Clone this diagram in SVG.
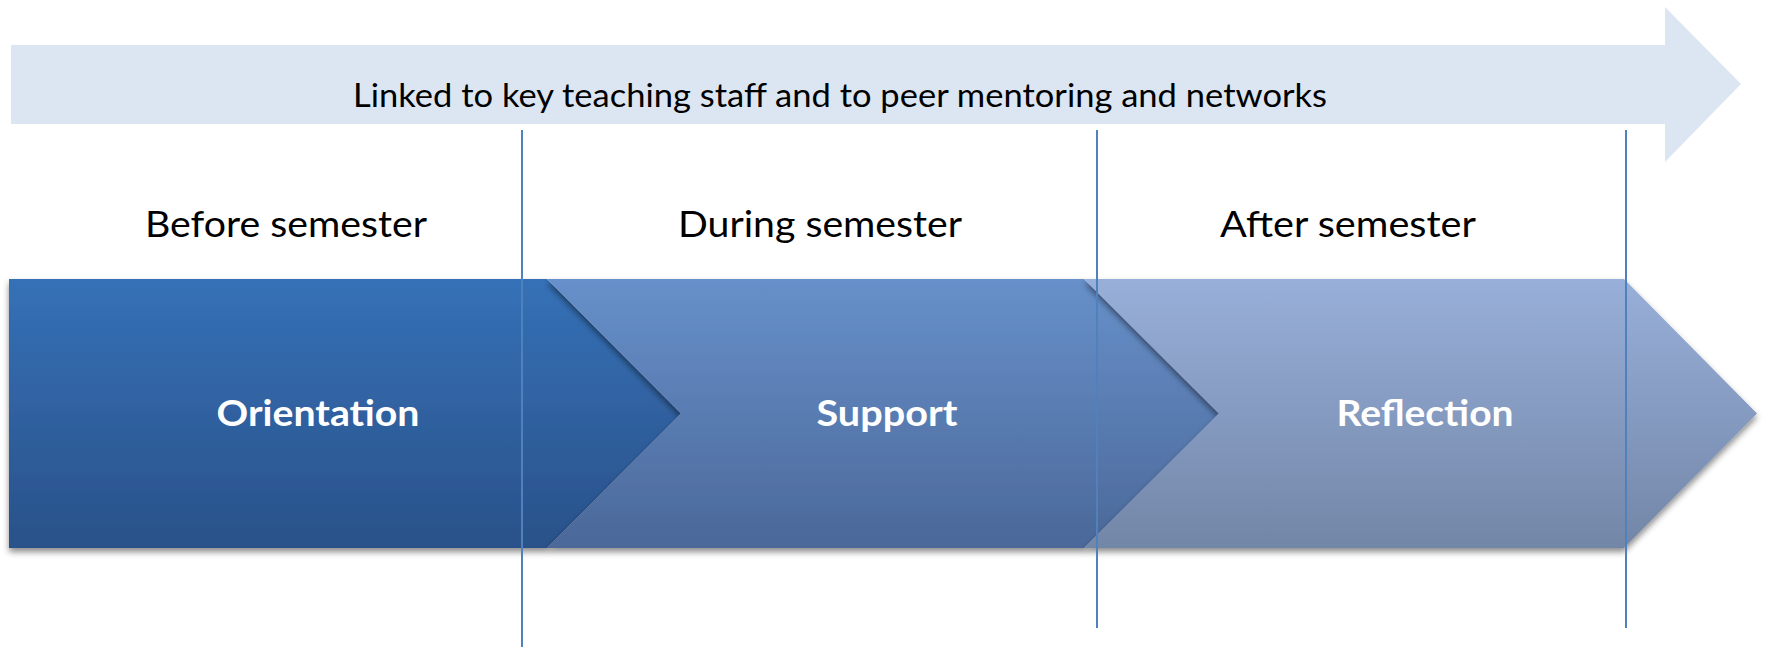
<svg xmlns="http://www.w3.org/2000/svg" width="1767" height="647" viewBox="0 0 1767 647">
<style>
.lbl{font-family:Lato,"Open Sans","Liberation Sans",sans-serif;font-size:37px;fill:#000;text-anchor:middle}
.top{font-family:Lato,"Open Sans","Liberation Sans",sans-serif;font-size:32px;fill:#000;text-anchor:middle}
.stage{font-family:Lato,"Open Sans","Liberation Sans",sans-serif;font-size:37px;font-weight:bold;fill:#fff;text-anchor:middle}
.vline{stroke:#4F81BD;stroke-width:2;fill:none}
</style>
<defs>
<linearGradient id="gO" x1="0" y1="0" x2="0" y2="1"><stop offset="0" stop-color="#3571B7"/><stop offset="1" stop-color="#2A5189"/></linearGradient>
<linearGradient id="gS" x1="0" y1="0" x2="0" y2="1"><stop offset="0" stop-color="#6790CA"/><stop offset="1" stop-color="#4B6899"/></linearGradient>
<linearGradient id="gR" x1="0" y1="0" x2="0" y2="1"><stop offset="0" stop-color="#98AFD9"/><stop offset="1" stop-color="#7286A7"/></linearGradient>
<filter id="sh" x="-5%" y="-10%" width="110%" height="125%">
<feDropShadow dx="0" dy="4" stdDeviation="3" flood-color="#000" flood-opacity="0.45"/>
</filter>
</defs>
<g id="timeline-arrow">
<polygon points="11,45 1665,45 1665,7 1741,84 1665,162 1665,124 11,124" fill="#DCE6F2"/>
<text class="top" x="840" y="107" textLength="974" lengthAdjust="spacingAndGlyphs">Linked to key teaching staff and to peer mentoring and networks</text>
</g>
<g id="label-before"><text class="lbl" x="286" y="237" textLength="282" lengthAdjust="spacingAndGlyphs">Before semester</text></g>
<g id="label-during"><text class="lbl" x="820" y="237" textLength="284" lengthAdjust="spacingAndGlyphs">During semester</text></g>
<g id="label-after"><text class="lbl" x="1348" y="237" textLength="256" lengthAdjust="spacingAndGlyphs">After semester</text></g>
<g id="orientation">
<polygon points="9,279 547,279 681,413.5 547,548 9,548" fill="url(#gO)" filter="url(#sh)"/>
<text class="stage" x="318" y="426" textLength="203" lengthAdjust="spacingAndGlyphs">Orientation</text>
</g>
<g id="support">
<polygon points="547,279 1084,279 1219,413.5 1084,548 547,548 681,413.5" fill="url(#gS)" filter="url(#sh)"/>
<text class="stage" x="887" y="426" textLength="141" lengthAdjust="spacingAndGlyphs">Support</text>
</g>
<g id="reflection">
<polygon points="1084,279 1624,279 1757,413.5 1624,548 1084,548 1219,413.5" fill="url(#gR)" filter="url(#sh)"/>
<text class="stage" x="1425" y="426" textLength="177" lengthAdjust="spacingAndGlyphs">Reflection</text>
</g>
<g id="connectors">
<line class="vline" x1="522" y1="130" x2="522" y2="647"/>
<line class="vline" x1="1097" y1="130" x2="1097" y2="628"/>
<line class="vline" x1="1626" y1="130" x2="1626" y2="628"/>
</g>
</svg>
